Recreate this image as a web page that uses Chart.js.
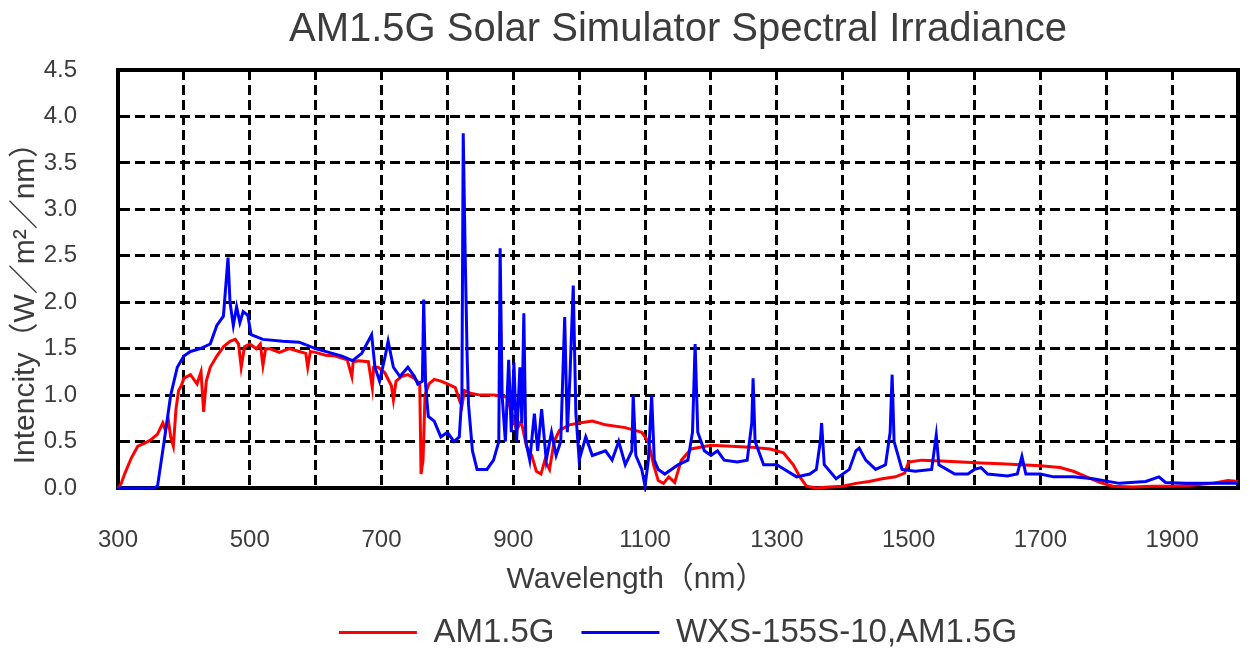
<!DOCTYPE html>
<html>
<head>
<meta charset="utf-8">
<script src="https://cdn.jsdelivr.net/npm/chart.js@4.4.1/dist/chart.umd.min.js"></script>
<style>
  html, body { margin: 0; padding: 0; background: #fff; }
  canvas { display: block; }
</style>
</head>
<body>
<canvas id="chart" width="1251" height="651"></canvas>
<script>
// AM1.5G reference spectrum (red)
const redWl = [300,305,310,320,330,340,350,360,368,372,376,380,384,388,392,396,400,410,420,426,430,434,440,450,460,470,478,483,487,492,500,510,516,520,524,530,545,560,575,585,588,592,600,615,630,648,655,657,665,680,686,688,695,705,715,718,722,730,740,750,758,760,763,766,772,780,790,800,812,818,822,826,835,850,870,890,898,905,912,920,928,935,942,948,955,962,970,985,1000,1020,1040,1070,1095,1105,1113,1120,1128,1136,1145,1155,1170,1200,1230,1260,1290,1310,1325,1335,1345,1360,1380,1400,1420,1440,1460,1480,1494,1500,1520,1550,1580,1610,1640,1670,1700,1730,1750,1770,1790,1810,1840,1870,1900,1930,1960,1985,2000];
const redVal = [0.0,0.05,0.15,0.32,0.45,0.48,0.52,0.58,0.7,0.62,0.75,0.55,0.45,0.85,1.05,1.1,1.18,1.22,1.12,1.25,0.82,1.15,1.3,1.42,1.52,1.58,1.6,1.55,1.3,1.52,1.55,1.5,1.55,1.32,1.5,1.5,1.46,1.5,1.47,1.45,1.3,1.47,1.46,1.43,1.42,1.38,1.2,1.36,1.37,1.36,1.08,1.3,1.3,1.24,1.1,0.95,1.15,1.2,1.22,1.18,1.12,0.15,0.3,1.0,1.12,1.17,1.15,1.12,1.08,0.95,0.88,1.05,1.02,1.0,1.0,0.98,0.8,0.62,0.72,0.45,0.35,0.18,0.15,0.3,0.2,0.5,0.62,0.68,0.7,0.72,0.68,0.65,0.6,0.5,0.25,0.08,0.05,0.12,0.06,0.3,0.42,0.46,0.45,0.44,0.42,0.38,0.25,0.12,0.02,0.0,0.01,0.02,0.05,0.07,0.1,0.12,0.16,0.28,0.3,0.29,0.28,0.27,0.26,0.25,0.24,0.22,0.18,0.12,0.06,0.02,0.01,0.02,0.02,0.03,0.05,0.08,0.07];

// WXS-155S-10 simulator spectrum (blue)
const blueWl = [300,355,360,370,380,390,400,410,425,440,450,460,465,467,470,475,480,485,490,497,502,520,550,575,600,620,640,656,670,685,690,697,705,710,718,728,740,750,755,762,764,767,771,780,790,800,810,818,822,824,827,830,832,838,845,860,870,878,880,883,888,893,897,901,905,910,913,916,919,925,932,937,943,950,958,965,972,978,982,986,991,995,1000,1010,1020,1040,1050,1060,1070,1080,1082,1086,1095,1100,1105,1110,1114,1120,1130,1150,1165,1172,1176,1180,1190,1200,1210,1220,1240,1255,1262,1264,1267,1280,1300,1330,1350,1360,1366,1368,1372,1390,1410,1420,1425,1435,1450,1465,1472,1475,1478,1490,1510,1535,1542,1546,1570,1590,1600,1610,1620,1650,1665,1672,1678,1700,1720,1750,1780,1820,1860,1880,1890,1920,1960,2000];
const blueVal = [0,0,0.02,0.5,1.0,1.3,1.42,1.47,1.5,1.55,1.75,1.85,2.3,2.48,2.0,1.75,1.95,1.78,1.9,1.86,1.65,1.6,1.58,1.57,1.5,1.46,1.42,1.37,1.45,1.65,1.3,1.15,1.4,1.58,1.3,1.2,1.3,1.2,1.12,1.15,2.03,1.1,0.77,0.72,0.55,0.6,0.5,0.55,1.0,3.82,2.5,1.4,0.9,0.4,0.2,0.2,0.3,0.5,2.58,1.0,0.5,1.38,0.6,1.35,0.5,1.3,0.7,1.88,0.5,0.3,0.8,0.4,0.85,0.3,0.6,0.35,0.5,1.84,0.6,1.2,2.18,0.8,0.3,0.55,0.35,0.4,0.3,0.5,0.25,0.4,1.0,0.35,0.2,0.02,0.3,1.0,0.3,0.2,0.15,0.25,0.3,0.6,1.55,0.6,0.4,0.35,0.4,0.3,0.28,0.3,0.7,1.18,0.5,0.25,0.25,0.12,0.15,0.2,0.5,0.7,0.25,0.1,0.2,0.4,0.43,0.3,0.2,0.25,0.6,1.22,0.5,0.2,0.18,0.2,0.57,0.25,0.15,0.15,0.2,0.22,0.15,0.13,0.15,0.34,0.15,0.15,0.12,0.12,0.1,0.05,0.07,0.12,0.06,0.05,0.05,0.05];

const xTickLabels = [300, 500, 700, 900, 1100, 1300, 1500, 1700, 1900];

const FONT = "'Liberation Sans', Arial, 'Noto Sans CJK JP', sans-serif";
const TEXT = '#3c3c3c';

const toPoints = (xs, ys) => xs.map((x, i) => ({ x: x, y: ys[i] }));

// thick black box round the plot, under the lines
const framePlugin = {
  id: 'frame',
  beforeDatasetsDraw(chart) {
    const { ctx, chartArea: a } = chart;
    ctx.save();
    ctx.strokeStyle = '#000';
    ctx.lineWidth = 4;
    ctx.strokeRect(a.left, a.top, a.right - a.left, a.bottom - a.top);
    ctx.restore();
  }
};

// axis titles, placed like the original
const axisTitles = {
  id: 'axisTitles',
  afterDraw(chart) {
    const { ctx, chartArea: a } = chart;
    ctx.save();
    ctx.fillStyle = TEXT;
    ctx.textAlign = 'center';
    ctx.textBaseline = 'middle';
    ctx.font = '30px ' + FONT;
    ctx.fillText('Wavelength（nm）', a.left + 518, a.bottom + 92);
    ctx.translate(26, a.top + 226);
    ctx.rotate(-Math.PI / 2);
    ctx.fillText('Intencity（W／m²／nm）', 0, 0);
    ctx.restore();
  }
};

new Chart(document.getElementById('chart'), {
  type: 'line',
  data: {
    datasets: [
      {
        label: 'AM1.5G',
        data: toPoints(redWl, redVal),
        borderColor: '#ff0000',
        backgroundColor: '#ff0000',
        borderWidth: 3,
        pointRadius: 0,
        order: 1,
        clip: 4
      },
      {
        label: 'WXS-155S-10,AM1.5G',
        data: toPoints(blueWl, blueVal),
        borderColor: '#0000ff',
        backgroundColor: '#0000ff',
        borderWidth: 3,
        pointRadius: 0,
        order: 0,
        clip: 4
      }
    ]
  },
  options: {
    responsive: false,
    animation: false,
    devicePixelRatio: 1,
    layout: { padding: { left: 0, right: 13, top: 0, bottom: -8 } },
    scales: {
      x: {
        type: 'linear',
        min: 300,
        max: 2000,
        afterFit: s => { s.height = 101; s.paddingLeft = 0; s.paddingRight = 0; },
        ticks: {
          stepSize: 100,
          padding: 38,
          color: TEXT,
          font: { family: FONT, size: 24 },
          maxRotation: 0,
          autoSkip: false,
          callback: v => xTickLabels.includes(v) ? String(v) : ''
        },
        grid: { color: '#000', lineWidth: 3, drawTicks: false },
        border: { display: true, color: '#000', width: 4, dash: [10, 5] }
      },
      y: {
        min: 0,
        max: 4.5,
        afterFit: s => { s.width = 118; s.paddingTop = 0; s.paddingBottom = 0; },
        ticks: {
          stepSize: 0.5,
          padding: 41,
          color: TEXT,
          font: { family: FONT, size: 24 },
          callback: v => v.toFixed(1)
        },
        grid: { color: '#000', lineWidth: 3, drawTicks: false },
        border: { display: true, color: '#000', width: 4, dash: [10, 5] }
      }
    },
    plugins: {
      title: {
        display: true,
        text: 'AM1.5G Solar Simulator Spectral Irradiance',
        fullSize: false,
        color: TEXT,
        font: { family: FONT, size: 40, weight: 'normal' },
        padding: { top: 6, bottom: 16 }
      },
      legend: {
        position: 'bottom',
        fullSize: false,
        reverse: true,
        labels: {
          usePointStyle: true,
          pointStyle: 'line',
          pointStyleWidth: 78,
          padding: 27,
          color: TEXT,
          font: { family: FONT, size: 33 }
        }
      },
      tooltip: { enabled: false }
    }
  },
  plugins: [framePlugin, axisTitles]
});
</script>
</body>
</html>
